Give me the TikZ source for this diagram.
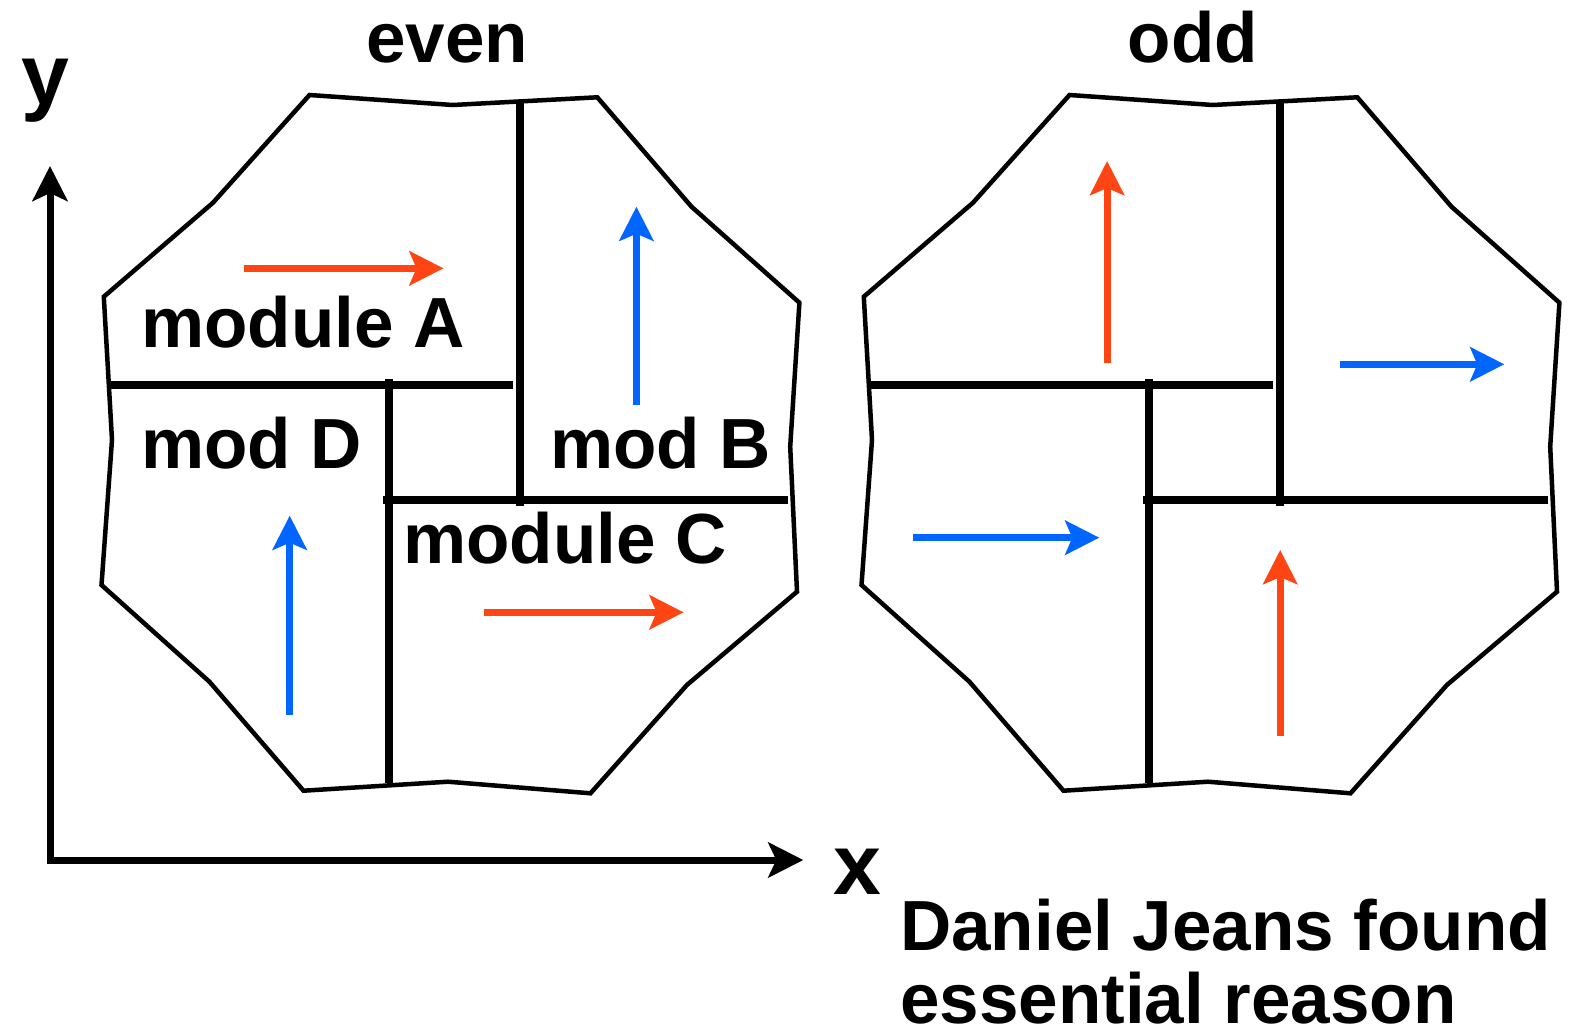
\documentclass[tikz,border=0pt]{standalone}
\usepackage{fontspec}
\setmainfont{Liberation Sans}
\usetikzlibrary{arrows.meta}
\definecolor{arred}{RGB}{255,69,20}
\definecolor{arblue}{RGB}{0,102,255}
\begin{document}
\begin{tikzpicture}[x=1pt,y=-1pt,
  outline/.style={line width=4.5pt, line join=miter},
  divider/.style={line width=8pt},
  flow/.style={line width=7pt, -{Stealth[length=34pt,width=34pt,inset=7pt]}},
  axisline/.style={line width=7pt, -{Stealth[length=35pt,width=35pt,inset=8pt]}},
  lbl/.style={font=\fontsize{71}{80}\selectfont\bfseries, inner sep=0pt, anchor=base west},
  title/.style={font=\fontsize{71}{80}\selectfont\bfseries, inner sep=0pt, anchor=base},
  axlbl/.style={font=\fontsize{86}{90}\selectfont\bfseries, inner sep=0pt, anchor=base},
]
\fill[white] (0,0) rectangle (1577,1031);
\useasboundingbox (0,0) rectangle (1577,1031);

% two cells (even, odd)
\foreach \dx in {0,760}{
\begin{scope}[shift={(\dx,0)}]
\draw[outline] (309.5,95) -- (452.7,105) -- (597.3,97.3) -- (691.5,206.7) -- (799.4,302.7)
  -- (790.2,446.7) -- (797,591.7) -- (686.9,685) -- (590.5,793.3) -- (448,781.7)
  -- (303.5,790.7) -- (209.4,681.7) -- (101.5,585) -- (112,440) -- (103.8,296.7)
  -- (213,202.7) -- cycle;
\draw[divider] (110.7,385) -- (512.7,385);
\draw[divider] (389,379.3) -- (389,783);
\draw[divider] (519.5,101.7) -- (519.5,506);
\draw[divider] (382.7,500) -- (787.9,500);
\end{scope}
}

% even arrows
\coordinate (a1s) at (243.8,268.3); \coordinate (a1e) at (443.5,268.3);
\coordinate (b1s) at (636.4,405);   \coordinate (b1e) at (636.4,206.7);
\coordinate (d1s) at (289.7,715);   \coordinate (d1e) at (289.7,515.7);
\coordinate (c1s) at (483.5,612.3); \coordinate (c1e) at (683.6,612.3);
\draw[flow, arred] (a1s) -- (a1e);
\draw[flow, arblue] (b1s) -- (b1e);
\draw[flow, arblue] (d1s) -- (d1e);
\draw[flow, arred] (c1s) -- (c1e);

% odd arrows
\coordinate (a2s) at (1107.1,362.7); \coordinate (a2e) at (1107.1,161);
\coordinate (b2s) at (1340.4,364.3); \coordinate (b2e) at (1504.3,364.3);
\coordinate (d2s) at (913.4,537.7);  \coordinate (d2e) at (1099.3,537.7);
\coordinate (c2s) at (1280.2,736);   \coordinate (c2e) at (1280.2,550);
\draw[flow, arred] (a2s) -- (a2e);
\draw[flow, arblue] (b2s) -- (b2e);
\draw[flow, arblue] (d2s) -- (d2e);
\draw[flow, arred] (c2s) -- (c2e);

% labels
\node[lbl] (modA) at (141,347.7) {module A};
\node[lbl] (modD) at (141,468.3) {mod D};
\node[lbl] (modB) at (550,468.3) {mod B};
\node[lbl] (modC) at (403,563.3) {module C};
\node[title] (even) at (447.2,62.7) {even};
\node[title] (odd) at (1192.8,62.7) {odd};

% axes
\coordinate (origin) at (50,860);
\coordinate (ytip) at (50,166);
\coordinate (xtip) at (803.3,860);
\draw[axisline] ([yshift=-3.5pt]origin) -- (ytip);
\draw[axisline] ([xshift=-3.5pt]origin) -- (xtip);
\node[axlbl] (ylab) at (45,104) {y};
\node[axlbl] (xlab) at (857.5,894) {x};

\node[lbl] (note1) at (900,950.5) {Daniel Jeans found};
\node[lbl] (note2) at (900,1023) {essential reason};
\end{tikzpicture}
\end{document}
